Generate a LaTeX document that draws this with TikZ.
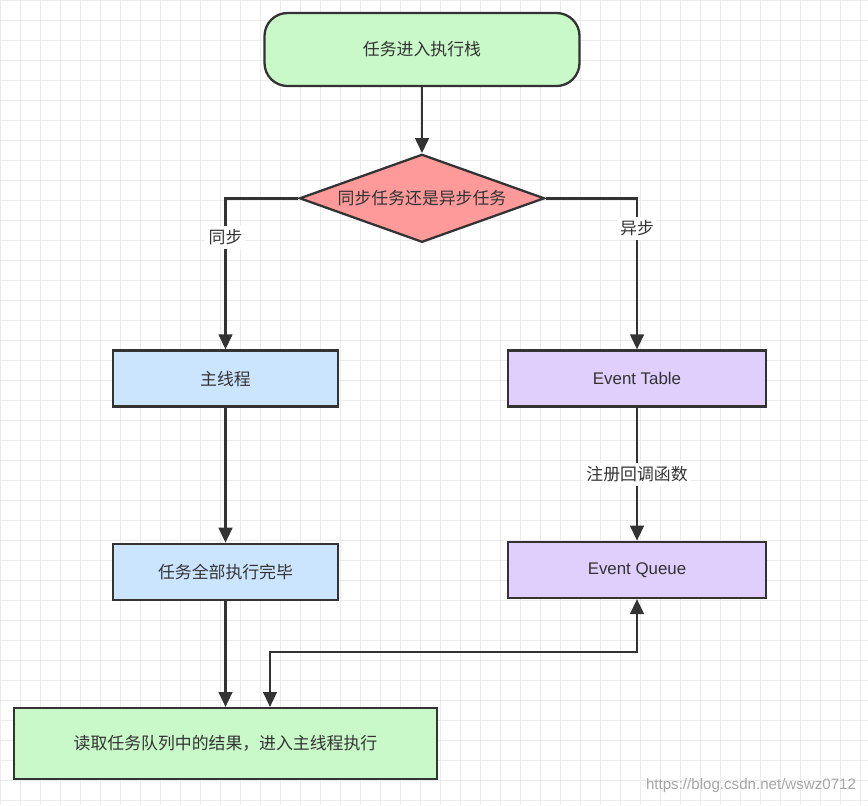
\documentclass[tikz,border=0pt]{standalone}
\usepackage{fontspec}
\setmainfont{Noto Sans CJK SC}
\newfontfamily\latinfont{Liberation Sans}
\usepackage{tikz}
\usetikzlibrary{shapes.geometric, positioning, arrows.meta}

\definecolor{linegray}{HTML}{333333}
\definecolor{termgreen}{HTML}{C9F8C9}
\definecolor{choicered}{HTML}{FF9A9A}
\definecolor{threadblue}{HTML}{CCE5FF}
\definecolor{eventpurple}{HTML}{E0CEFC}

\begin{document}
\begin{tikzpicture}[
        font=\fontsize{9.6pt}{11pt}\selectfont,
        text=linegray,
        terminal/.style={rectangle, draw=linegray, line width=1.3pt, fill=termgreen, rounded corners=0.46cm, minimum width=6.3cm, minimum height=1.46cm, align=center},
        choice/.style={diamond, draw=linegray, line width=1.3pt, fill=choicered, aspect=2.78, inner sep=0pt, minimum width=4.9cm, minimum height=1.76cm, align=center},
        thread/.style={rectangle, draw=linegray, line width=1.3pt, fill=threadblue, minimum width=4.5cm, minimum height=1.12cm, align=center},
        event/.style={rectangle, draw=linegray, line width=1.3pt, fill=eventpurple, minimum width=5.16cm, minimum height=1.12cm, align=center, font=\latinfont\fontsize{9.6pt}{11pt}\selectfont},
        result/.style={rectangle, draw=linegray, line width=1.3pt, fill=termgreen, minimum width=8.46cm, minimum height=1.42cm, align=center},
        lbl/.style={fill=white, inner sep=2pt},
        arrow/.style={-{Triangle[length=0.3cm, width=0.27cm]}, draw=linegray, line width=1.5pt},
        twoway/.style={{Triangle[length=0.3cm, width=0.27cm]}-{Triangle[length=0.3cm, width=0.27cm]}, draw=linegray, line width=1.5pt},
        gridline/.style={draw=black!8, line width=0.4pt}
    ]
%
    % Background
    \useasboundingbox (0,0) rectangle (17.36,-16.1);
    \fill[white] (0,0) rectangle (17.36,-16.1);
    \draw[gridline, step=0.4] (0,-16.1) grid (17.36,0);
%
    % Nodes
    \node[terminal] (start) at (8.44,-0.99) {任务进入执行栈};
    \node[choice, below=1.32cm of start] (kind) {同步任务还是异步任务};
    \node[thread, below=2.12cm of kind, xshift=-3.93cm] (mainth) {主线程};
    \node[event, below=2.12cm of kind, xshift=4.3cm] (etable) {Event Table};
    \node[thread, below=2.7cm of mainth] (done) {任务全部执行完毕};
    \node[event, below=2.66cm of etable] (equeue) {Event Queue};
    \node[result, below=2.12cm of done] (readq) {读取任务队列中的结果，进入主线程执行};
    \node[font=\latinfont\fontsize{8.6pt}{10pt}\selectfont, text=black!35] (mark) at (15.02,-15.72) {https://blog.csdn.net/wswz0712};
%
    % Arrows
    \draw[arrow] (start) -- (kind);
    \draw[arrow] (kind.west) -| node[lbl, pos=0.63] {同步} (mainth);
    \draw[arrow] (kind.east) -| node[lbl, pos=0.6] {异步} (etable);
    \draw[arrow] (mainth) -- (done);
    \draw[arrow] (etable) -- node[lbl] {注册回调函数} (equeue);
    \draw[arrow] (done) -- (readq);
    \draw[twoway] ([xshift=0.89cm]readq.north) -- ++(0,1.1) -| (equeue.south);
%
\end{tikzpicture}
\end{document}
